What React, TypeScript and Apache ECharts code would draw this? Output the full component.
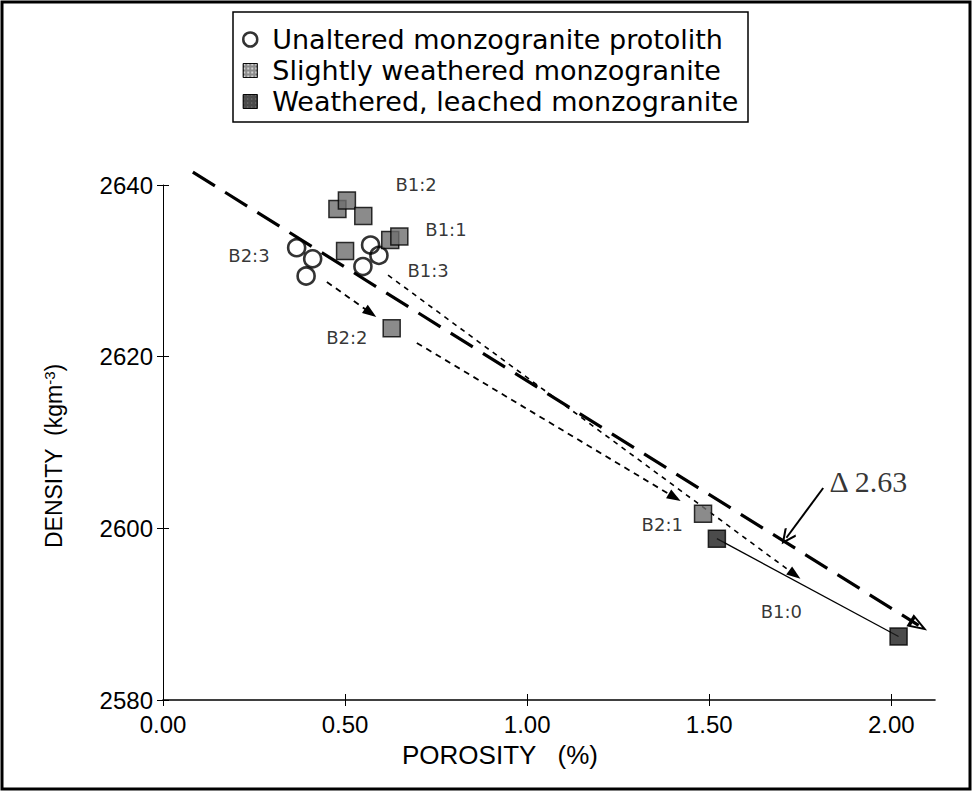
import React, { useEffect, useRef } from 'react';
import * as echarts from 'echarts';

// ---- data ----
const unalteredPoints: number[][] = [
  [0.367, 2632.7], [0.411, 2631.4], [0.393, 2629.4],
  [0.570, 2633.0], [0.593, 2631.8], [0.549, 2630.5],
];
const slightlyWeatheredPoints: number[][] = [
  [0.479, 2637.2], [0.505, 2638.2], [0.550, 2636.4], [0.500, 2632.3],
  [0.624, 2633.6], [0.649, 2634.0], [0.628, 2623.3], [1.483, 2601.7],
];
const weatheredPoints: number[][] = [[1.521, 2598.8], [2.020, 2587.4]];

const sampleLabelNames = ['B1:2', 'B1:1', 'B1:3', 'B2:3', 'B2:2', 'B2:1', 'B1:0'];
const sampleLabelX = [0.695, 0.777, 0.728, 0.236, 0.505, 1.371, 1.698];
const sampleLabelY = [2640.1, 2634.8, 2630.0, 2631.8, 2622.2, 2600.4, 2590.3];

const deltaText = 'Δ 2.63';
const deltaTextPos = [1.937, 2605.4];

const trendLine = [[0.082, 2641.5], [2.075, 2588.7]];
const trendArrow = [[2.04, 2589.6], [2.075, 2588.7]];
const pathB1Dashed = [[0.618, 2629.5], [1.735, 2594.6]];
const pathB2aDashed = [[0.450, 2628.7], [0.570, 2625.1]];
const pathB2bDashed = [[0.697, 2621.6], [1.405, 2603.6]];
const pathB1Solid = [[1.521, 2598.8], [2.020, 2587.4]];
const deltaArrow = [[1.813, 2604.7], [1.712, 2598.9]];

const xTicks = [0, 0.5, 1, 1.5, 2];
const yTicks = [2580, 2600, 2620, 2640];

const seriesNames = [
  'Unaltered monzogranite protolith',
  'Slightly weathered monzogranite',
  'Weathered, leached monzogranite',
];

const SANS = 'Liberation Sans, Arial, Helvetica, sans-serif';
const WIDE = 'DejaVu Sans, Liberation Sans, Arial, sans-serif';
const SERIF = 'Liberation Serif, Times New Roman, serif';

const hollowArrow = 'path://M0,0 L10,20 L-10,20 Z M0,6 L-5.5,16.5 L5.5,16.5 Z';
const filledArrow = 'path://M0,0 L6,16 L-6,16 Z';
const openArrow = 'path://M0,0 L9,14 L7,15.5 L0,4.5 L-7,15.5 L-9,14 Z';

const slightDecal = {
  symbol: 'rect',
  symbolSize: 1,
  color: 'rgba(255,255,255,0.75)',
  dashArrayX: [2, 2],
  dashArrayY: [2, 2],
  rotation: 0,
};
const weatheredDecal = {
  symbol: 'rect',
  symbolSize: 1,
  color: 'rgba(255,255,255,0.45)',
  dashArrayX: [1, 3],
  dashArrayY: [1, 3],
  rotation: 0,
};

function seg(points: number[][], lineStyle: any, endSymbol: string, endSize: number[] | number) {
  return [
    { coord: points[0], symbol: 'none', lineStyle },
    { coord: points[1], symbol: endSymbol, symbolSize: endSize, lineStyle },
  ];
}

export default function App() {
  const ref = useRef<HTMLDivElement>(null);

  useEffect(() => {
    if (!ref.current) return;
    const chart = echarts.init(ref.current, null, { renderer: 'svg' });

    const labelData: any[] = sampleLabelNames.map((n, i) => ({
      name: n,
      value: [sampleLabelX[i], sampleLabelY[i]],
    }));
    labelData.push({
      name: deltaText,
      value: deltaTextPos,
      label: { fontFamily: SERIF, fontSize: 30 },
    });

    const xBase = { type: 'value', min: 0, max: 2.12, gridIndex: 0, splitLine: { show: false } };
    const yBase = { type: 'value', min: 2580, max: 2640, gridIndex: 0, splitLine: { show: false } };

    const option: any = {
      animation: false,
      backgroundColor: '#ffffff',
      aria: { enabled: false, decal: { show: false } },
      grid: { left: 163, right: 38, top: 185, bottom: 92, outerBoundsMode: 'none' },
      xAxis: [
        {
          ...xBase,
          position: 'bottom',
          interval: 0.5,
          axisLine: { show: true, lineStyle: { color: '#000', width: 1.6 } },
          axisTick: { show: true, customValues: xTicks, length: 6, lineStyle: { color: '#000', width: 1 } },
          axisLabel: {
            customValues: xTicks,
            formatter: (v: number) => v.toFixed(2),
            color: '#000',
            fontFamily: SANS,
            fontSize: 24,
            margin: 12,
          },
        },
        {
          ...xBase,
          position: 'bottom',
          interval: 0.5,
          axisLine: { show: false },
          axisTick: { show: true, inside: true, customValues: xTicks, length: 6, lineStyle: { color: '#000', width: 1 } },
          axisLabel: { show: false },
        },
      ],
      yAxis: [
        {
          ...yBase,
          position: 'left',
          interval: 20,
          axisLine: { show: true, lineStyle: { color: '#000', width: 1 } },
          axisTick: { show: true, customValues: yTicks, length: 6, lineStyle: { color: '#000', width: 1 } },
          axisLabel: {
            customValues: yTicks,
            formatter: (v: number) => String(v),
            color: '#000',
            fontFamily: SANS,
            fontSize: 24,
            margin: 10,
          },
        },
        {
          ...yBase,
          position: 'left',
          interval: 20,
          axisLine: { show: false },
          axisTick: { show: true, inside: true, customValues: yTicks, length: 6, lineStyle: { color: '#000', width: 1 } },
          axisLabel: { show: false },
        },
      ],
      legend: {
        orient: 'vertical',
        left: 242,
        top: 26,
        padding: 0,
        itemGap: 4,
        itemWidth: 14,
        itemHeight: 14,
        selectedMode: false,
        textStyle: { color: '#000', fontFamily: WIDE, fontSize: 27, lineHeight: 27, padding: [0, 0, 0, 10] },
        data: [
          { name: seriesNames[0], icon: 'circle', itemStyle: { color: '#fff', borderColor: '#000', borderWidth: 2.5, decal: 'none' } },
          { name: seriesNames[1], icon: 'rect', itemStyle: { color: '#6e6e6e', borderColor: '#000', borderWidth: 1, decal: slightDecal } },
          { name: seriesNames[2], icon: 'rect', itemStyle: { color: '#1e1e1e', borderColor: '#000', borderWidth: 1, decal: weatheredDecal } },
        ],
      },
      graphic: [
        {
          type: 'rect',
          shape: { x: 2, y: 2, width: 968, height: 787 },
          style: { fill: 'none', stroke: '#000', lineWidth: 3 },
          silent: true,
          z: 0,
        },
        {
          type: 'rect',
          shape: { x: 233, y: 12, width: 515, height: 110 },
          style: { fill: 'none', stroke: '#000', lineWidth: 1.5 },
          silent: true,
        },
        {
          type: 'text',
          x: 500,
          y: 755,
          style: {
            text: 'POROSITY   (%)',
            fill: '#000',
            fontFamily: SANS,
            fontSize: 26,
            align: 'center',
            verticalAlign: 'middle',
            textAlign: 'center',
            textVerticalAlign: 'middle',
          },
        },
        {
          type: 'text',
          x: 54,
          y: 456,
          rotation: Math.PI / 2,
          style: {
            text: '{n|DENSITY  (kgm}{s|-3}{n|)}',
            rich: {
              n: { fontFamily: SANS, fontSize: 23, fill: '#000', color: '#000' },
              s: { fontFamily: SANS, fontSize: 15, fill: '#000', color: '#000', verticalAlign: 'top', padding: [0, 0, 9, 0] },
            },
            fill: '#000',
            align: 'center',
            verticalAlign: 'middle',
            textAlign: 'center',
            textVerticalAlign: 'middle',
          },
        },
      ],
      series: [
        {
          name: 'trend',
          type: 'line',
          data: trendLine,
          clip: false,
          silent: true,
          showSymbol: false,
          symbol: 'none',
          z: 1,
          lineStyle: { color: '#000', width: 3.2, type: [26, 12] },
          markLine: {
            silent: true,
            animation: false,
            label: { show: false },
            emphasis: { disabled: true },
            symbol: ['none', 'none'],
            data: [
              seg(trendArrow, { color: '#000', width: 0, type: 'solid' }, hollowArrow, [14, 20]),
              seg(pathB1Dashed, { color: '#000', width: 1.6, type: [5, 5] }, filledArrow, [10, 14]),
              seg(pathB2aDashed, { color: '#000', width: 1.8, type: [6, 5] }, filledArrow, [10, 14]),
              seg(pathB2bDashed, { color: '#000', width: 1.8, type: [6, 5] }, filledArrow, [10, 14]),
              seg(pathB1Solid, { color: '#000', width: 1.3, type: 'solid' }, 'none', 1),
              seg(deltaArrow, { color: '#000', width: 2, type: 'solid' }, openArrow, [14, 16]),
            ],
          },
        },
        {
          name: seriesNames[0],
          type: 'scatter',
          data: unalteredPoints,
          symbol: 'circle',
          symbolSize: 17,
          z: 10,
          clip: false,
          itemStyle: { color: 'transparent', borderColor: '#000', borderWidth: 2.6 },
        },
        {
          name: seriesNames[1],
          type: 'scatter',
          data: slightlyWeatheredPoints,
          symbol: 'rect',
          symbolSize: 17,
          z: 10,
          clip: false,
          itemStyle: { color: '#6e6e6e', borderColor: '#000', borderWidth: 1.5, decal: slightDecal },
        },
        {
          name: seriesNames[2],
          type: 'scatter',
          data: weatheredPoints,
          symbol: 'rect',
          symbolSize: 17,
          z: 10,
          clip: false,
          itemStyle: { color: '#1e1e1e', borderColor: '#000', borderWidth: 1.5, decal: weatheredDecal },
        },
        {
          name: 'labels',
          type: 'scatter',
          data: labelData,
          symbol: 'circle',
          symbolSize: 1,
          z: 11,
          clip: false,
          silent: true,
          itemStyle: { color: 'rgba(0,0,0,0)' },
          label: {
            show: true,
            position: 'inside',
            formatter: (p: any) => p.name,
            color: '#000',
            fontFamily: WIDE,
            fontSize: 18,
          },
        },
      ],
    };

    chart.setOption(option);
    return () => chart.dispose();
  }, []);

  return (
    <div
      ref={ref}
      style={{ position: 'fixed', left: 0, top: 0, width: 973, height: 792, background: '#fff' }}
    />
  );
}
